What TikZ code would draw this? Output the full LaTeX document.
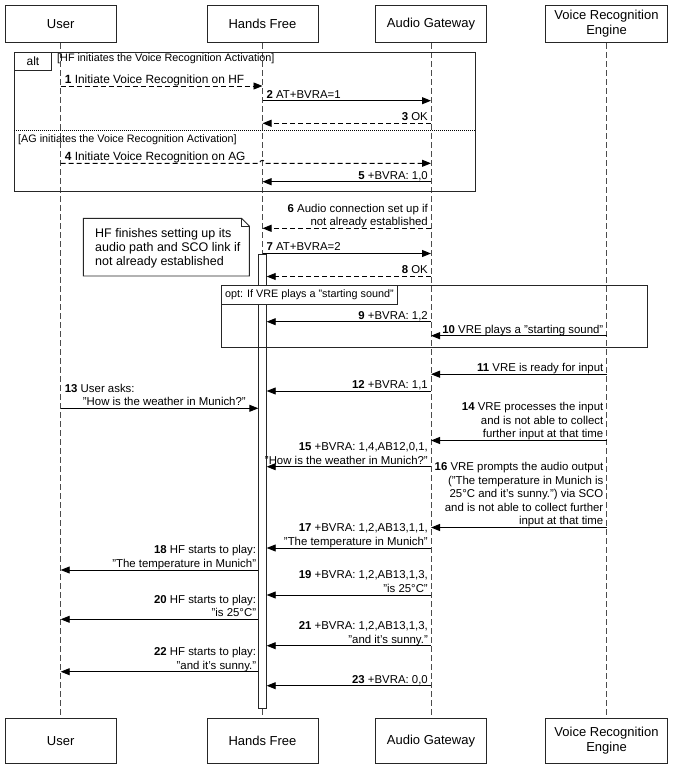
\documentclass[tikz,border=0pt]{standalone}
\usepackage{fontspec}
\setmainfont{Liberation Sans}
\usetikzlibrary{arrows.meta}
\begin{document}
\begin{tikzpicture}[x=1pt,y=-1pt,
  actor/.style={draw=black!85, line width=0.9pt, minimum width=111pt, inner sep=0pt, align=center, font=\fontsize{13}{15.5}\selectfont},
  topact/.style={actor, minimum height=37.7pt},
  botact/.style={actor, minimum height=44.5pt},
  life/.style={draw=black!70, line width=0.9pt, dash pattern=on 6pt off 3pt},
  msg/.style={draw=black, line width=0.9pt, -{Triangle[length=9pt,width=7pt]}},
  rmsg/.style={msg, dash pattern=on 5pt off 3pt},
  lbl/.style={inner sep=0pt, font=\fontsize{11.4}{13.5}\selectfont, execute at end node={\rule[-3pt]{0pt}{3pt}}},
  lblR/.style={lbl, anchor=south east, align=right},
  lblL/.style={lbl, anchor=south west, align=left},
  biglbl/.style={font=\fontsize{11.9}{13.5}\selectfont},
  frame/.style={draw=black!85, line width=0.9pt, inner sep=0pt},
  guard/.style={inner sep=0pt, anchor=west, font=\fontsize{10.8}{13}\selectfont},
]
\useasboundingbox (0,0) rectangle (675,771);

% actors
\node[topact] (U) at (60.7,23.85) {User};
\node[topact] (H) at (262.5,23.85) {Hands Free};
\node[topact] (A) at (431,23.85) {Audio Gateway};
\node[topact, minimum width=122pt] (V) at (606.5,23.85) {Voice Recognition\\Engine};
\node[botact] (Ub) at (60.7,740.75) {User};
\node[botact] (Hb) at (262.5,740.75) {Hands Free};
\node[botact] (Ab) at (431,740.75) {Audio Gateway};
\node[botact, minimum width=122pt] (Vb) at (606.5,740.75) {Voice Recognition\\Engine};

% lifelines
\draw[life] (U.south) -- (Ub.north);
\draw[life] (H.south) -- (Hb.north);
\draw[life] (A.south) -- (Ab.north);
\draw[life] (V.south) -- (Vb.north);

% activation bar
\node[draw=black!85, fill=white, line width=0.9pt, minimum width=7.5pt, minimum height=453.5pt, inner sep=0pt, anchor=north] (bar) at (H |- 0,254) {};

% alt fragment
\node[frame, minimum width=461pt, minimum height=138.5pt, anchor=north west] (alt) at (14,52) {};
\node[frame, minimum width=37pt, minimum height=18pt, anchor=north west, font=\fontsize{12}{14}\selectfont] (altlbl) at (14,52) {alt};
\node[guard] (g1) at (57,58.7) {[HF initiates the Voice Recognition Activation]};
\draw[black, line width=0.8pt, dash pattern=on 1pt off 1pt] (alt.west |- 0,130.7) -- (alt.east |- 0,130.7);
\node[guard] (g2) at (18,139.3) {[AG initiates the Voice Recognition Activation]};

% opt fragment
\node[frame, minimum width=426pt, minimum height=61.7pt, anchor=north west] (opt) at (220.7,285) {};
\node[frame, fill=white, minimum width=176.6pt, minimum height=19pt, anchor=north west, font=\fontsize{10.8}{13}\selectfont] (optlbl) at (220.7,285) {opt: If VRE plays a "starting sound"};

% note
\draw[frame, fill=white] (83.3,218.3) -- (241.5,218.3) -- (249.3,226.1) -- (249.3,276) -- (83.3,276) -- cycle;
\draw[frame] (241.5,218.3) -- (241.5,226.1) -- (249.3,226.1);
\node[inner sep=0pt, anchor=north west, align=left, font=\fontsize{12.5}{14.2}\selectfont] (note) at (95,228.3) {HF finishes setting up its\\audio path and SCO link if\\not already established};

% messages
\draw[rmsg] (U |- 0,86) -- (H |- 0,86);
\node[lblL, biglbl] (l1) at ([xshift=4pt]U |- 0,86.5) {\textbf{1} Initiate Voice Recognition on HF};
\draw[msg] (H |- 0,100.7) -- (A |- 0,100.7);
\node[lblL] (l2) at ([xshift=4pt]H |- 0,101.2) {\textbf{2} AT+BVRA=1};
\draw[rmsg] (A |- 0,123.3) -- (H |- 0,123.3);
\node[lblR] (l3) at ([xshift=-3pt]A |- 0,123.8) {\textbf{3} OK};
\draw[rmsg] (U |- 0,163.3) -- ([xshift=-3pt]H |- 0,163.3) arc[start angle=180, end angle=360, radius=3] -- (A |- 0,163.3);
\node[lblL, biglbl] (l4) at ([xshift=4pt]U |- 0,163.8) {\textbf{4} Initiate Voice Recognition on AG};
\draw[msg] (A |- 0,181.7) -- (H |- 0,181.7);
\node[lblR] (l5) at ([xshift=-3pt]A |- 0,182.2) {\textbf{5} +BVRA: 1,0};
\draw[rmsg] (A |- 0,228.3) -- (H |- 0,228.3);
\node[lblR] (l6) at ([xshift=-3pt]A |- 0,228.8) {\textbf{6} Audio connection set up if\\not already established};
\draw[msg] (H |- 0,253.5) -- (A |- 0,253.5);
\node[lblL] (l7) at ([xshift=4pt]H |- 0,254) {\textbf{7} AT+BVRA=2};
\draw[rmsg] (A |- 0,276.5) -- (bar.east |- 0,276.5);
\node[lblR] (l8) at ([xshift=-3pt]A |- 0,277) {\textbf{8} OK};
\draw[msg] (A |- 0,321.7) -- (bar.east |- 0,321.7);
\node[lblR] (l9) at ([xshift=-3pt]A |- 0,322.2) {\textbf{9} +BVRA: 1,2};
\draw[msg] (V |- 0,335.7) -- (A |- 0,335.7);
\node[lblR] (l10) at ([xshift=-3pt]V |- 0,336.2) {\textbf{10} VRE plays a "starting sound"};
\draw[msg] (V |- 0,374.2) -- (A |- 0,374.2);
\node[lblR] (l11) at ([xshift=-3pt]V |- 0,374.7) {\textbf{11} VRE is ready for input};
\draw[msg] (A |- 0,391) -- (bar.east |- 0,391);
\node[lblR] (l12) at ([xshift=-3pt]A |- 0,391.5) {\textbf{12} +BVRA: 1,1};
\draw[msg] (U |- 0,408.3) -- (bar.west |- 0,408.3);
\node[lblL] (l13) at ([xshift=4pt]U |- 0,408.8) {\textbf{13} User asks:\\\hspace*{18pt}"How is the weather in Munich?"};
\draw[msg] (V |- 0,440.5) -- (A |- 0,440.5);
\node[lblR] (l14) at ([xshift=-3pt]V |- 0,441) {\textbf{14} VRE processes the input\\and is not able to collect\\further input at that time};
\draw[msg] (A |- 0,466.7) -- (bar.east |- 0,466.7);
\node[lblR] (l15) at ([xshift=-3pt]A |- 0,467.2) {\textbf{15} +BVRA: 1,4,AB12,0,1,\\"How is the weather in Munich?"};
\draw[msg] (V |- 0,527.5) -- (A |- 0,527.5);
\node[lblR] (l16) at ([xshift=-3pt]V |- 0,528) {\textbf{16} VRE prompts the audio output\\("The temperature in Munich is\\25°C and it's sunny.") via SCO\\and is not able to collect further\\input at that time};
\draw[msg] (A |- 0,548) -- (bar.east |- 0,548);
\node[lblR] (l17) at ([xshift=-3pt]A |- 0,548.5) {\textbf{17} +BVRA: 1,2,AB13,1,1,\\"The temperature in Munich"};
\draw[msg] (bar.west |- 0,570) -- (U |- 0,570);
\node[lblR] (l18) at ([xshift=-2pt]bar.west |- 0,570.5) {\textbf{18} HF starts to play:\\"The temperature in Munich"};
\draw[msg] (A |- 0,595) -- (bar.east |- 0,595);
\node[lblR] (l19) at ([xshift=-3pt]A |- 0,595.5) {\textbf{19} +BVRA: 1,2,AB13,1,3,\\"is 25°C"};
\draw[msg] (bar.west |- 0,619.3) -- (U |- 0,619.3);
\node[lblR] (l20) at ([xshift=-2pt]bar.west |- 0,619.8) {\textbf{20} HF starts to play:\\"is 25°C"};
\draw[msg] (A |- 0,645.7) -- (bar.east |- 0,645.7);
\node[lblR] (l21) at ([xshift=-3pt]A |- 0,646.2) {\textbf{21} +BVRA: 1,2,AB13,1,3,\\"and it's sunny."};
\draw[msg] (bar.west |- 0,671.7) -- (U |- 0,671.7);
\node[lblR] (l22) at ([xshift=-2pt]bar.west |- 0,672.2) {\textbf{22} HF starts to play:\\"and it's sunny."};
\draw[msg] (A |- 0,685.7) -- (bar.east |- 0,685.7);
\node[lblR] (l23) at ([xshift=-3pt]A |- 0,686.2) {\textbf{23} +BVRA: 0,0};
\end{tikzpicture}
\end{document}
